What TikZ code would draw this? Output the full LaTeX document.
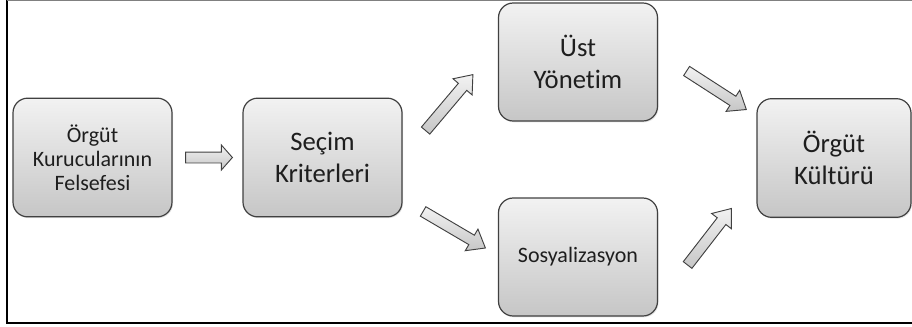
\documentclass[tikz,border=0pt]{standalone}
\usepackage{fontspec}
\setmainfont{Carlito}[Ligatures=NoCommon]
\usetikzlibrary{calc,shadows}
\definecolor{Edge}{HTML}{404040}
\definecolor{BoxTop}{HTML}{F2F2F2}
\definecolor{BoxBottom}{HTML}{C6C6C6}
\definecolor{Ink}{HTML}{1E1E1E}
\tikzset{
  stage/.style={draw=Edge,line width=.9pt,rounded corners=11pt,top color=BoxTop,bottom color=BoxBottom,
    minimum width=119.25pt,minimum height=89pt,align=center,text=Ink,inner sep=0pt,
    font=\fontsize{20}{24}\selectfont,drop shadow={shadow xshift=.8pt,shadow yshift=-1pt,opacity=.2}},
  smalltext/.style={font=\fontsize{16.5}{18}\selectfont},
  blockarrow/.style={draw=Edge,line width=.7pt,top color=BoxTop,bottom color=BoxBottom,line join=miter},
  frame/.style={draw=black,line width=1.5pt}
}
% block arrow from tail to tip, optional head length
\newcommand{\blockarrow}[3][12pt]{%
  \path[blockarrow] let \p1=($(#3)-(#2)$), \n1={atan2(\y1,\x1)}, \n2={veclen(\x1,\y1)} in
    [shift={(#2)},rotate=\n1]
    (0pt,-4.1pt) -- (\n2-#1,-4.1pt) -- (\n2-#1,-9.4pt) -- (\n2,0pt)
    -- (\n2-#1,9.4pt) -- (\n2-#1,4.1pt) -- (0pt,4.1pt) -- cycle;}

\begin{document}
\begin{tikzpicture}[x=.75pt,y=-.75pt]
  \useasboundingbox (0,0) rectangle (912,326);
  \draw[frame] (7,0) rectangle (916,323);
  \draw[draw=gray,line width=1pt] (7,0) -- (916,0);
  \node[stage,smalltext] (kurucu) at (92.5,157.5) {Örgüt\\Kurucularının\\Felsefesi};
  \node[stage] (secim) at (322.5,157.5) {Seçim\\Kriterleri};
  \node[stage,minimum height=88.5pt] (ust) at (578,62) {Üst\\Yönetim};
  \node[stage,smalltext,minimum height=88.5pt] (sosyal) at (578,257) {Sosyalizasyon};
  \node[stage,minimum width=115.5pt] (kultur) at (834,158) {Örgüt\\Kültürü};
  % arrow ends
  \coordinate (a1s) at ($(kurucu.east)+(13,0)$);
  \coordinate (a1e) at ($(secim.west)+(-10,0)$);
  \coordinate (a2s) at ($(secim.north east)+(23,33)$);
  \coordinate (a2e) at ($(ust.south west)+(-25,-47)$);
  \coordinate (a3s) at ($(secim.south east)+(20.5,-6)$);
  \coordinate (a3e) at ($(sosyal.west)+(-12.5,-9)$);
  \coordinate (a4s) at ($(ust.east)+(28.5,9)$);
  \coordinate (a4e) at ($(kultur.north west)+(-10,11.5)$);
  \coordinate (a5s) at ($(sosyal.east)+(29.5,8)$);
  \coordinate (a5e) at ($(kultur.south west)+(-25,-9.5)$);
  \blockarrow[8.3pt]{a1s}{a1e}
  \blockarrow{a2s}{a2e}
  \blockarrow{a3s}{a3e}
  \blockarrow{a4s}{a4e}
  \blockarrow{a5s}{a5e}
\end{tikzpicture}
\end{document}
